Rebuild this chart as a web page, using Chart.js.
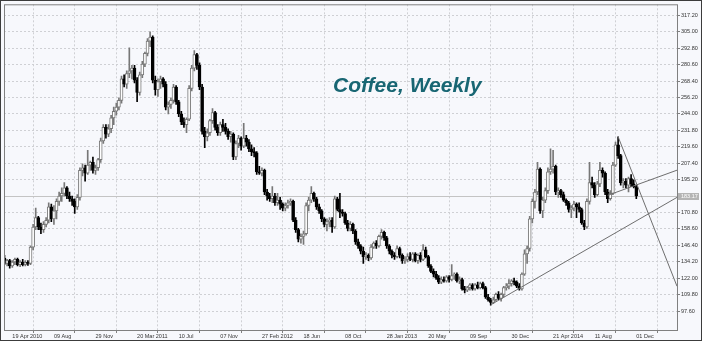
<!DOCTYPE html>
<html>
<head>
<meta charset="utf-8">
<title>Coffee, Weekly</title>
<script src="https://cdn.jsdelivr.net/npm/chart.js@4.4.0/dist/chart.umd.min.js"></script>
<style>
  html, body { margin: 0; padding: 0; background: #f7f8fc; }
  canvas { display: block; }
</style>
</head>
<body>
<canvas id="chart" width="702" height="341"></canvas>
<script>
// ---- data (weekly bars, first bar = week of 29 Mar 2010) ----
const opens = [
  137, 133, 135, 131, 134, 136, 132, 134, 132, 133.5,
  133, 145, 160, 167, 160, 158, 162, 165, 175, 166,
  172, 179, 183, 185, 189, 183, 181, 179, 175, 182,
  202, 204, 200, 206, 208, 202, 204, 210, 224, 234,
  229, 233, 241, 246, 249, 254, 270, 266, 274, 276,
  278, 269, 260, 273, 281, 289, 298, 301, 269, 262,
  268, 270, 266, 249, 251, 254, 264, 253, 244, 238,
  236, 240, 263, 278, 288, 280, 264, 231, 227, 230,
  239, 245, 234, 230, 236, 234, 231, 227, 229, 212,
  222, 226, 220, 226, 223, 218, 216, 215, 201, 200,
  202, 186, 183, 181, 183, 178, 180, 177, 174, 176,
  178, 179, 165, 158, 151, 153, 155, 176, 180, 185,
  181, 175, 172, 166, 162, 164, 165, 160, 181, 173,
  171, 170, 163, 159, 162, 157, 149, 146, 142, 138,
  139, 137, 145, 148, 146, 153, 156, 152, 146, 142,
  139, 138, 144, 139, 135, 136, 138, 136, 140, 135,
  139, 136, 143, 138, 131, 127, 125, 122, 119, 121,
  120, 123, 121, 124, 125, 120, 121, 114, 113, 115,
  117, 114, 117, 115, 118, 115, 108, 106, 104, 106,
  110, 107, 110, 115, 116, 118, 120, 119, 116, 114,
  125, 140, 144, 166, 179, 186, 203, 172, 180, 187,
  201, 203, 205, 186, 187, 184, 180, 178, 173, 174,
  177, 175, 173, 163, 160, 179, 193, 191, 184, 192,
  202, 200, 186, 181, 185, 206, 221, 213, 193, 194,
  191, 196, 192, 190
];
const highs = [
  139, 136, 136, 135, 137, 137, 135, 136, 135, 135,
  146, 162, 174, 168, 163, 164, 167, 178, 177, 176,
  181, 186, 189, 193, 190, 186, 183, 181, 184, 204,
  207, 206, 217, 209, 212, 206, 211, 226, 236, 236,
  236, 243, 249, 252, 256, 272, 273, 276, 293, 280,
  280, 271, 275, 283, 290, 300, 305, 302, 272, 270,
  272, 271, 268, 253, 256, 266, 265, 254, 246, 241,
  241, 265, 280, 291, 289, 282, 266, 234, 233, 240,
  248, 246, 236, 238, 240, 237, 233, 231, 230, 224,
  228, 227, 237, 228, 225, 221, 219, 216, 205, 204,
  203, 188, 185, 190, 185, 185, 182, 178, 178, 180,
  181, 180, 167, 159, 155, 157, 178, 182, 190, 186,
  182, 177, 173, 167, 166, 167, 167, 183, 182, 185,
  173, 171, 165, 164, 163, 158, 151, 147, 145, 141,
  140, 147, 149, 150, 154, 158, 157, 153, 147, 143,
  141, 146, 145, 140, 138, 140, 141, 141, 141, 140,
  141, 147, 145, 139, 132, 129, 127, 124, 123, 123,
  124, 124, 132, 126, 126, 123, 122, 116, 116, 118,
  118, 118, 119, 119, 119, 116, 110, 107, 108, 111,
  112, 111, 116, 118, 121, 121, 122, 120, 118, 126,
  143, 146, 168, 181, 188, 208, 204, 182, 189, 204,
  218, 217, 206, 189, 188, 186, 181, 179, 176, 179,
  178, 178, 174, 165, 181, 208, 197, 193, 194, 208,
  204, 201, 188, 187, 208, 223, 227, 214, 196, 196,
  197, 199, 195, 191
];
const lows = [
  132, 131, 129.5, 130, 132, 131, 130.5, 131, 131, 131.5,
  132, 143, 158, 158, 155, 156, 160, 163, 164, 162,
  166, 176, 179, 183, 181, 179, 176, 170, 173, 180,
  198, 194, 199, 202, 200, 199, 202, 208, 222, 226,
  227, 230, 236, 243, 247, 252, 264, 263, 271, 270,
  267, 253, 258, 271, 279, 287, 294, 267, 258, 257,
  263, 264, 247, 244, 248, 252, 251, 242, 236, 234,
  230, 239, 261, 276, 277, 262, 229, 219, 224, 228,
  237, 232, 228, 228, 231, 229, 225, 223, 210, 210,
  219, 217, 219, 220, 216, 213, 212, 199, 199, 198,
  184, 180, 179, 178, 176, 176, 173, 172, 172, 174,
  176, 164, 156, 149, 148, 147, 154, 172, 178, 179,
  173, 170, 164, 160, 157, 160, 156, 159, 172, 167,
  168, 162, 157, 157, 155, 147, 144, 140, 133, 136,
  135, 136, 144, 144, 145, 151, 150, 144, 140, 137,
  136, 137, 137, 133, 133, 134, 135, 134, 134, 133,
  134, 135, 137, 130, 126, 123, 121, 118, 118, 119,
  119, 119, 120, 121, 119, 118, 113, 111, 112, 113,
  113, 113, 114, 114, 114, 107, 105, 102, 103, 105,
  106, 105, 108, 113, 114, 116, 117, 115, 113, 113,
  124, 133, 142, 163, 174, 184, 170, 167, 178, 185,
  199, 200, 184, 182, 182, 179, 176, 171, 167, 172,
  167, 171, 162, 158, 159, 177, 189, 182, 183, 190,
  197, 184, 178, 180, 184, 205, 211, 191, 189, 189,
  186, 190, 189, 181
];
const closes = [
  133, 135, 131, 134, 136, 132, 134, 132, 133.5, 133,
  145, 160, 167, 160, 158, 162, 165, 175, 166, 172,
  179, 183, 185, 189, 183, 181, 179, 175, 182, 202,
  204, 200, 206, 208, 202, 204, 210, 224, 234, 229,
  233, 241, 246, 249, 254, 270, 266, 274, 276, 278,
  269, 260, 273, 281, 289, 298, 301, 269, 262, 268,
  270, 266, 249, 251, 254, 264, 253, 244, 238, 236,
  240, 263, 278, 288, 280, 264, 231, 227, 230, 239,
  245, 234, 230, 236, 234, 231, 227, 229, 212, 222,
  226, 220, 226, 223, 218, 216, 215, 201, 200, 202,
  186, 183, 181, 183, 178, 180, 177, 174, 176, 178,
  179, 165, 158, 151, 153, 155, 176, 180, 185, 181,
  175, 172, 166, 162, 164, 165, 160, 181, 173, 171,
  170, 163, 159, 162, 157, 149, 146, 142, 138, 139,
  137, 145, 148, 146, 153, 156, 152, 146, 142, 139,
  138, 144, 139, 135, 136, 138, 136, 140, 135, 139,
  136, 143, 138, 131, 127, 125, 122, 119, 121, 120,
  123, 121, 124, 125, 120, 121, 114, 113, 115, 117,
  114, 117, 115, 118, 115, 108, 106, 104, 106, 110,
  107, 110, 115, 116, 118, 120, 119, 116, 114, 125,
  140, 144, 166, 179, 186, 203, 172, 180, 187, 201,
  203, 205, 186, 187, 184, 180, 178, 173, 174, 177,
  175, 173, 163, 160, 179, 193, 191, 184, 192, 202,
  200, 186, 181, 185, 206, 221, 213, 193, 194, 191,
  196, 192, 190, 183.17
];

// x tick positions (bar index) and their labels
const tickIdx = [3, 19, 35, 51, 67, 83, 99, 115, 131, 147, 163, 179, 195, 211, 227, 243];
const tickLabels = ['19 Apr 2010', '09 Aug', '29 Nov', '20 Mar 2011', '10 Jul', '07 Nov',
  '27 Feb 2012', '18 Jun', '08 Oct', '28 Jan 2013', '20 May', '09 Sep', '30 Dec',
  '21 Apr 2014', '11 Aug', '01 Dec'];
const yTicks = [97.6, 109.8, 122.0, 134.2, 146.4, 158.6, 170.8, 195.2, 207.4, 219.6,
  231.8, 244.0, 256.2, 268.4, 280.6, 292.8, 305.0, 317.2];

// trend lines: [barIndex, price]
const supportLine = [[187, 102.2], [258.65, 182.0]];
const upperLine = [[232, 183.5], [258.65, 202.2]];
const fallLine = [[236, 227], [258.65, 116]];
const lastPrice = 183.17;

// ---- helpers ----
const isBull = i => closes[i] >= opens[i];
const toPts = line => line.map(p => ({ x: p[0], y: p[1] }));

const bodyData = opens.map((o, i) => ({ x: i, y: [o, closes[i]] }));
const wickData = lows.map((l, i) => ({ x: i, y: [l, highs[i]] }));
const bodyFill = opens.map((_, i) => isBull(i) ? '#ffffff' : '#000000');
const bodyEdge = opens.map((_, i) => isBull(i) ? '#777777' : '#000000');
const wickColor = opens.map((_, i) => isBull(i) ? '#777777' : '#000000');

const BG = '#f7f8fc';
const FONT = '"Liberation Sans", Arial, sans-serif';

// background, frame, title, last price tag
const decor = {
  id: 'decor',
  beforeDraw(chart) {
    const { ctx, width, height } = chart;
    ctx.save();
    ctx.fillStyle = BG;
    ctx.fillRect(0, 0, width, height);
    ctx.restore();
  },
  beforeDatasetsDraw(chart) {
    // last price line
    const { ctx, chartArea: a, scales: { y } } = chart;
    const py = Math.round(y.getPixelForValue(lastPrice)) + 0.5;
    ctx.save();
    ctx.strokeStyle = '#c4c4c4';
    ctx.lineWidth = 1;
    ctx.beginPath();
    ctx.moveTo(a.left, py);
    ctx.lineTo(a.right, py);
    ctx.stroke();
    ctx.restore();
  },
  afterDraw(chart) {
    const { ctx, width, height, chartArea: a, scales: { y } } = chart;
    ctx.save();
    // plot frame
    ctx.strokeStyle = '#808080';
    ctx.lineWidth = 1;
    ctx.strokeRect(a.left + 0.5, a.top + 0.5, a.right - a.left, a.bottom - a.top);
    // outer frame
    ctx.strokeStyle = '#3c3c3c';
    ctx.strokeRect(0.5, 0.5, width - 1, height - 1);
    // title
    ctx.fillStyle = '#186673';
    ctx.font = 'italic bold 21px ' + FONT;
    ctx.textAlign = 'left';
    ctx.textBaseline = 'alphabetic';
    ctx.fillText('Coffee, Weekly', 333, 92);
    // last price tag
    const py = y.getPixelForValue(lastPrice);
    ctx.fillStyle = '#b4b4b4';
    ctx.fillRect(a.right + 1, Math.round(py) - 3, 21, 7);
    ctx.fillStyle = '#ffffff';
    ctx.font = '5.5px ' + FONT;
    ctx.textBaseline = 'middle';
    ctx.fillText(lastPrice.toFixed(2), a.right + 4, py + 0.5);
    ctx.restore();
  }
};

const lineStyle = {
  type: 'line',
  borderColor: '#6e6e6e',
  borderWidth: 1,
  pointRadius: 0,
  fill: false,
  order: 0
};

new Chart(document.getElementById('chart'), {
  type: 'bar',
  data: {
    datasets: [
      { ...lineStyle, label: 'support', data: toPts(supportLine) },
      { ...lineStyle, label: 'upper', data: toPts(upperLine) },
      { ...lineStyle, label: 'fall', data: toPts(fallLine) },
      {
        type: 'bar', label: 'body', data: bodyData,
        backgroundColor: bodyFill, borderColor: bodyEdge, borderWidth: 1,
        borderSkipped: false, barThickness: 3, minBarLength: 1, grouped: false, order: 1
      },
      {
        type: 'bar', label: 'wick', data: wickData,
        backgroundColor: wickColor, borderWidth: 0,
        barThickness: 1, grouped: false, order: 2
      }
    ]
  },
  options: {
    responsive: false,
    animation: false,
    events: [],
    layout: { padding: { left: 4, top: 4, right: 0, bottom: 0 } },
    plugins: { legend: { display: false }, tooltip: { enabled: false }, title: { display: false } },
    scales: {
      x: {
        type: 'linear',
        min: -0.2,
        max: 258.65,
        offset: false,
        afterBuildTicks: s => { s.ticks = tickIdx.map(v => ({ value: v })); },
        afterFit: s => { s.height = 11; },
        ticks: {
          autoSkip: false, maxRotation: 0, minRotation: 0, align: 'start', padding: 0,
          color: '#333333', font: { family: FONT, size: 5.5 },
          callback: (v, i) => tickLabels[i] || ''
        },
        grid: { color: '#cfd0d4', lineWidth: 1, drawTicks: true, tickLength: 3, tickColor: '#808080' },
        border: { display: false, dash: [2, 2] }
      },
      y: {
        type: 'linear',
        position: 'right',
        min: 83.5,
        max: 325.4,
        afterBuildTicks: s => { s.ticks = yTicks.map(v => ({ value: v })); },
        afterFit: s => { s.width = 25; },
        ticks: {
          padding: 1, color: '#333333', font: { family: FONT, size: 5.5 },
          callback: v => v.toFixed(2)
        },
        grid: { color: '#cfd0d4', lineWidth: 1, drawTicks: true, tickLength: 3, tickColor: '#808080' },
        border: { display: false, dash: [2, 2] }
      }
    }
  },
  plugins: [decor]
});
</script>
</body>
</html>
